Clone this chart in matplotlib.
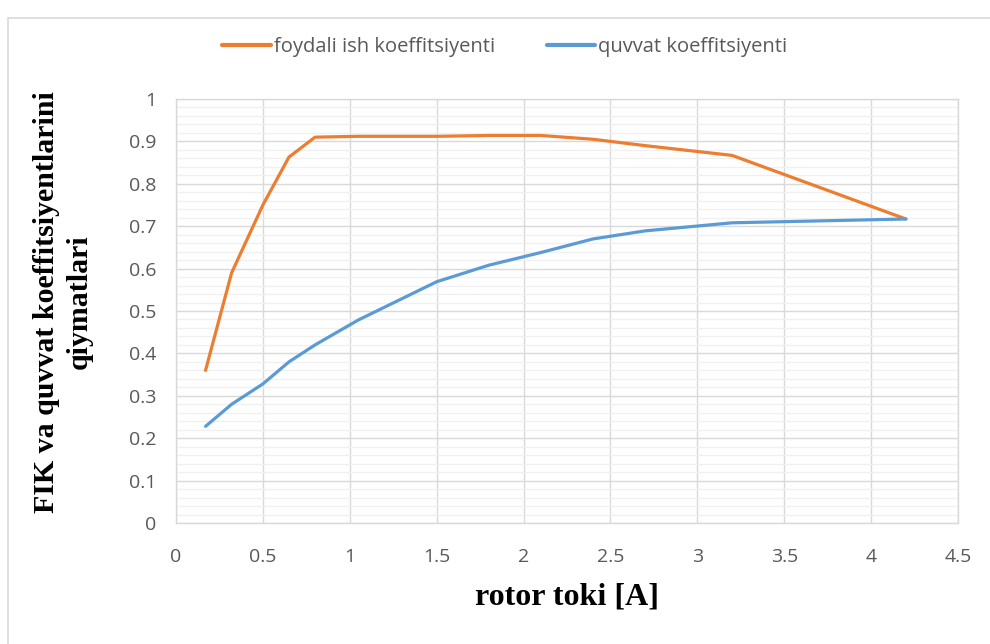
import matplotlib.pyplot as plt
from matplotlib.patches import Rectangle
from matplotlib.ticker import MultipleLocator

# rotor toki [A]
rotor_toki = [0.17, 0.32, 0.5, 0.65, 0.8, 1.05, 1.5, 1.8, 2.1, 2.4, 2.7, 3.2, 4.2]
fik = [0.36, 0.59, 0.75, 0.863, 0.91, 0.912, 0.912, 0.914, 0.914, 0.905, 0.89, 0.867, 0.717]
cos_fi = [0.228, 0.28, 0.328, 0.38, 0.42, 0.479, 0.569, 0.608, 0.638, 0.67, 0.689, 0.708, 0.717]

nomlar = ['foydali ish koeffitsiyenti', 'quvvat koeffitsiyenti']
ranglar = ['#ED7D31', '#5B9BD5']

tick_font = ['Open Sans', 'DejaVu Sans']
serif_font = ['Liberation Serif', 'DejaVu Serif']

fig = plt.figure(figsize=(9.9, 6.44), dpi=100)
fig.patches.append(Rectangle((8 / 990, -0.05), 1.0, 1 - 18 / 644 + 0.05,
                             transform=fig.transFigure, fill=False,
                             edgecolor='#D9D9D9', linewidth=1.2))

ax = fig.add_axes([176 / 990, 1 - 523 / 644, (958 - 176) / 990, (523 - 99) / 644])

ax.plot(rotor_toki, fik, color=ranglar[0], linewidth=2.3, label=nomlar[0], solid_capstyle='round')
ax.plot(rotor_toki, cos_fi, color=ranglar[1], linewidth=2.3, label=nomlar[1], solid_capstyle='round')

ax.set_xlim(0, 4.5)
ax.set_ylim(0, 1)
ax.yaxis.set_minor_locator(MultipleLocator(0.02))
ax.grid(which='major', color='#D9D9D9', linewidth=1.0)
ax.grid(which='minor', axis='y', color='#F0F0F0', linewidth=1.0)
ax.set_axisbelow(True)
for s in ax.spines.values():
    s.set_color('#D9D9D9')
    s.set_linewidth(1.0)
ax.tick_params(which='both', length=0, colors='#595959', labelsize=14)
ax.set_xticks([0, 0.5, 1, 1.5, 2, 2.5, 3, 3.5, 4, 4.5])
ax.set_xticklabels(['0', '0.5', '1', '1.5', '2', '2.5', '3', '3.5', '4', '4.5'], family=tick_font)
ax.set_yticks([0, 0.1, 0.2, 0.3, 0.4, 0.5, 0.6, 0.7, 0.8, 0.9, 1])
ax.set_yticklabels(['0', '0.1', '0.2', '0.3', '0.4', '0.5', '0.6', '0.7', '0.8', '0.9', '1'], family=tick_font)
ax.xaxis.set_tick_params(pad=18)
ax.yaxis.set_tick_params(pad=14)

ax.set_xlabel('rotor toki [A]', family=serif_font, fontweight='bold', fontsize=23, labelpad=12)
fig.text(63 / 990, 1 - 302 / 644, 'FIK va quvvat koeffitsiyentlarini\nqiymatlari',
         family=serif_font, fontweight='bold', fontsize=21.5, rotation=90,
         ha='center', va='center', multialignment='center', linespacing=1.3)

leg = fig.legend(loc='center', bbox_to_anchor=(0.51, 1 - 47 / 644), ncol=2, frameon=False,
                 prop={'family': tick_font, 'size': 14.5}, handlelength=2.4, columnspacing=2.6,
                 handletextpad=0.15)
for t in leg.get_texts():
    t.set_color('#595959')
for h in leg.get_lines():
    h.set_linewidth(3)

plt.savefig('out.png', dpi=100)
